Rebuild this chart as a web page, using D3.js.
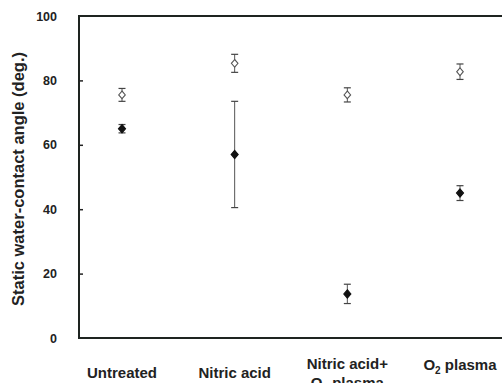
<!DOCTYPE html>
<html>
<head>
<meta charset="utf-8">
<script src="https://cdn.jsdelivr.net/npm/d3@7/dist/d3.min.js"></script>
<style>
  body { margin: 0; background: #fff; }
  text { font-family: "Liberation Sans", Arial, sans-serif; font-weight: bold; fill: #222; }
</style>
</head>
<body>
<div id="chart"></div>
<script>
// categories and measured values (deg.)
var categories = ["Untreated", "Nitric acid", "Nitric acid+O2 plasma", "O2 plasma"];
var openValues = [75.5, 85.3, 75.5, 82.7];
var openErrors = [2.0, 2.8, 2.2, 2.4];
var filledValues = [65.0, 57.0, 13.7, 45.0];
var filledErrors = [1.3, 16.5, 3.0, 2.3];
var yTicks = [0, 20, 40, 60, 80, 100];

var W = 502, H = 383;
var svg = d3.select("#chart").append("svg")
  .attr("width", W).attr("height", H);

var y = d3.scaleLinear().domain([0, 100]).range([338, 16]);
var x = d3.scalePoint().domain(categories).range([122, 460]);

// frame (right side runs off the picture)
svg.append("path")
  .attr("d", "M" + (W + 5) + "," + y(100) + "H79V" + y(0) + "H" + (W + 5))
  .attr("fill", "none")
  .attr("stroke", "#1e2420")
  .attr("stroke-width", 2);

// y axis ticks (inside) and labels
var yAxis = d3.axisLeft(y).tickValues(yTicks).tickSize(-4).tickPadding(22);
var ga = svg.append("g").attr("transform", "translate(79,0)").call(yAxis);
ga.select(".domain").remove();
ga.selectAll("line").attr("stroke", "#222").attr("stroke-width", 1.5);
ga.selectAll("text").style("font-size", "12.5px").style("font-family", "Liberation Sans, Arial, sans-serif")
  .style("font-weight", "bold").attr("fill", "#222");
ga.selectAll(".tick").filter(function(d) { return d === 0 || d === 100; }).select("line").remove();

// y title
svg.append("text")
  .attr("transform", "translate(24,179) rotate(-90)")
  .attr("text-anchor", "middle")
  .style("font-size", "16.5px")
  .text("Static water-contact angle (deg.)");

// x labels
var lab = svg.append("g");
function label(cat, lines, yy) {
  var t = lab.append("text")
    .attr("x", x(cat))
    .attr("y", yy)
    .attr("text-anchor", "middle")
    .style("font-size", "15px");
  lines.forEach(function(l, i) {
    var ts = t.append("tspan").attr("x", x(cat)).attr("dy", i === 0 ? 0 : 19);
    if (l.indexOf("O2") === 0) {
      ts.append("tspan").text("O");
      ts.append("tspan").text("2").attr("dy", 4).style("font-size", "10px");
      ts.append("tspan").text(l.slice(2)).attr("dy", -4);
    } else {
      ts.text(l);
    }
  });
}
label(categories[0], ["Untreated"], 378);
label(categories[1], ["Nitric acid"], 378);
label(categories[2], ["Nitric acid+", "O2 plasma"], 369);
label(categories[3], ["O2 plasma"], 370);

// error bars + diamonds
function series(vals, errs, filled) {
  var g = svg.append("g");
  vals.forEach(function(v, i) {
    var cx = x(categories[i]);
    var e = errs[i];
    g.append("line").attr("x1", cx).attr("x2", cx)
      .attr("y1", y(v + e)).attr("y2", y(v - e))
      .attr("stroke", "#555").attr("stroke-width", 1);
    [v + e, v - e].forEach(function(c) {
      g.append("line").attr("x1", cx - 3.5).attr("x2", cx + 3.5)
        .attr("y1", y(c)).attr("y2", y(c))
        .attr("stroke", "#444").attr("stroke-width", 1.2);
    });
    g.append("path")
      .attr("d", d3.symbol(d3.symbolDiamond2, filled ? 44 : 38)())
      .attr("transform", "translate(" + cx + "," + y(v) + ") scale(0.85,1)")
      .attr("fill", filled ? "#111" : "#fff")
      .attr("stroke", filled ? "#111" : "#555")
      .attr("stroke-width", 1.2);
  });
}
series(openValues, openErrors, false);
series(filledValues, filledErrors, true);
</script>
</body>
</html>
